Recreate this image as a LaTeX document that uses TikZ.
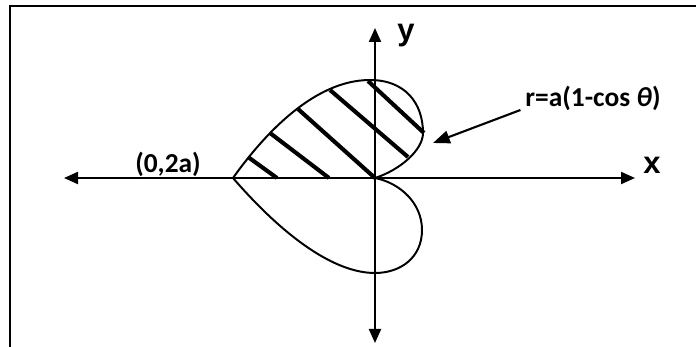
\documentclass[tikz,border=0pt]{standalone}
\usepackage{fontspec}
\setmainfont{Carlito}
\newfontfamily\axisfont{Liberation Sans}
\usetikzlibrary{positioning,arrows.meta}

\begin{document}
\begin{tikzpicture}[
  x=0.025cm, y=0.025cm,
  >={Triangle[length=0.35cm,width=0.3cm]},
  every node/.style={font=\fontsize{19.5}{24}\selectfont\bfseries},
  axis/.style={<->, line width=1.5pt},
  curve/.style={line width=1.4pt},
  hatch/.style={line width=2.9pt},
  frame/.style={line width=2pt},
  pointer/.style={-{Triangle[length=0.42cm,width=0.32cm]}, line width=1.5pt},
  axislbl/.style={font=\axisfont\fontsize{22}{26}\selectfont\bfseries}
]
\useasboundingbox (-375,-169) rectangle (321,178);
\draw[frame] (-365,-169) |- (321,172);

\coordinate (O) at (0,0);
\coordinate (xleft) at (-311,0);
\coordinate (xright) at (260,0);
\coordinate (ytop) at (0,150);
\coordinate (ybot) at (0,-165);
\coordinate (cusp) at (-142,0);

% axes
\draw[axis] (xleft) -- (xright);
\draw[axis] (ybot) -- (ytop);
\node[axislbl] (xlab) at (277,13) {x};
\node[axislbl] (ylab) at (31,142) {y};
\node (cusplbl) at (-207,14) {(0,2a)};

% the curve
\draw[curve] (cusp) .. controls (-110,45) and (-60,98) .. (-5,98)
  .. controls (30,98) and (48,75) .. (48,45)
  .. controls (48,28) and (25,8) .. (O)
  .. controls (25,-5) and (47,-25) .. (47,-52)
  .. controls (47,-80) and (25,-95) .. (0,-95)
  .. controls (-40,-95) and (-90,-60) .. cycle;

% shaded part
\foreach \xa/\ya/\xb/\yb in {-127/21/-98/0, -105/45/-46/0, -77/69/0/0, -45/88/33/21, -7/97/49/45}
  \draw[hatch] (\xa,\ya) -- (\xb,\yb);

\node (curvelbl) at (218,80) {r=a(1-cos \textit{θ})};
\coordinate (tip) at (58,35);
\draw[pointer] ([shift={(0,-12)}]curvelbl.west) -- (tip);
\end{tikzpicture}
\end{document}
